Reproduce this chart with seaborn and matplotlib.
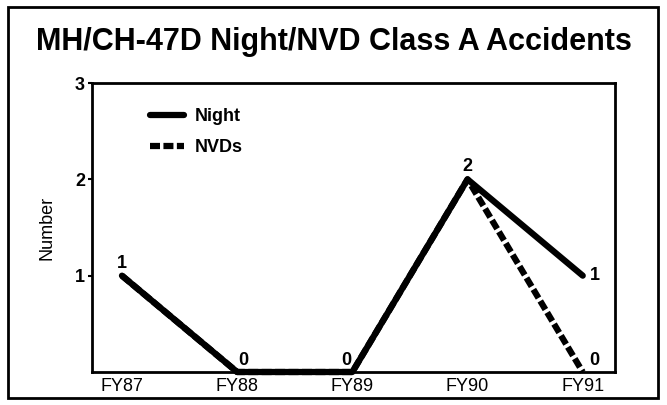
import matplotlib
matplotlib.use("Agg")
import matplotlib.pyplot as plt
import matplotlib.patches as patches
import pandas as pd
import seaborn as sns

# Chart data
years = ["FY87", "FY88", "FY89", "FY90", "FY91"]
night = [1, 0, 0, 2, 1]
nvds = [1, 0, 0, 2, 0]

df = pd.DataFrame({
    "Year": list(range(len(years))) * 2,
    "Number": night + nvds,
    "Series": ["Night"] * len(years) + ["NVDs"] * len(years),
})

sns.set_style("white")
plt.rcParams["font.family"] = ["Liberation Sans", "DejaVu Sans"]
for k in ["text.color", "axes.labelcolor", "xtick.color", "ytick.color"]:
    plt.rcParams[k] = "black"

fig = plt.figure(figsize=(6.67, 4.05), dpi=100)
ax = fig.add_axes([92 / 667, 1 - 372 / 405, (615 - 92) / 667, (372 - 83) / 405])

sns.lineplot(data=df, x="Year", y="Number", hue="Series", style="Series",
             palette={"Night": "black", "NVDs": "black"},
             dashes={"Night": "", "NVDs": (1.6, 0.55)},
             linewidth=4.5, ax=ax, legend=True, clip_on=False)

ax.set_xlim(-0.26, 4.28)
ax.set_ylim(0, 3)
ax.set_xticks(range(len(years)))
ax.set_xticklabels(years, fontsize=13)
ax.set_yticks([1, 2, 3])
ax.set_yticklabels(["1", "2", "3"], fontsize=13, fontweight="bold")
ax.tick_params(axis="y", length=3, width=1.5, pad=2, left=True)
ax.tick_params(axis="x", length=0, pad=4)
ax.set_xlabel("")
ax.set_ylabel("Number", fontsize=13, labelpad=14)
for s in ax.spines.values():
    s.set_linewidth(2)
    s.set_color("black")

# value labels
ax.text(0, 1.04, "1", ha="center", va="bottom", fontsize=13, fontweight="bold")
ax.text(1.05, 0.03, "0", ha="center", va="bottom", fontsize=13, fontweight="bold")
ax.text(1.95, 0.03, "0", ha="center", va="bottom", fontsize=13, fontweight="bold")
ax.text(3, 2.04, "2", ha="center", va="bottom", fontsize=13, fontweight="bold")
ax.text(4.06, 1.0, "1", ha="left", va="center", fontsize=13, fontweight="bold")
ax.text(4.06, 0.03, "0", ha="left", va="bottom", fontsize=13, fontweight="bold")

leg = ax.legend(loc="upper left", bbox_to_anchor=(0.08, 0.97), frameon=False,
                handlelength=1.9, fontsize=13, labelspacing=0.8, handletextpad=0.6)
for t in leg.get_texts():
    t.set_fontweight("bold")

fig.text(0.5, 1 - 42 / 405, "MH/CH-47D Night/NVD Class A Accidents",
         ha="center", va="center", fontsize=22, fontweight="bold")

fig.patches.append(patches.Rectangle((8 / 667, 7 / 405), 650 / 667, 391 / 405,
                                     transform=fig.transFigure, fill=False,
                                     edgecolor="black", linewidth=2))

fig.savefig("out.png", dpi=100)
